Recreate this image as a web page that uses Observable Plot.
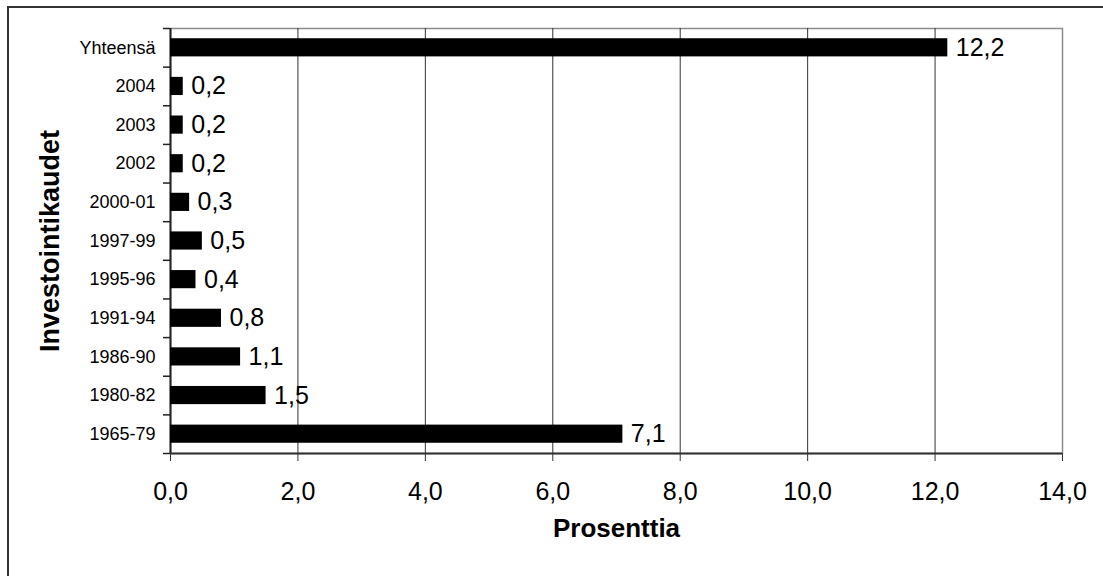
<!DOCTYPE html>
<html>
<head>
<meta charset="utf-8">
<script src="https://cdn.jsdelivr.net/npm/d3@7"></script>
<script src="https://cdn.jsdelivr.net/npm/@observablehq/plot@0.6"></script>
<style>
  html, body { margin: 0; padding: 0; background: #fff; overflow: hidden; }
  #wrap { position: relative; width: 1103px; height: 576px; }
  #border {
    position: absolute; left: 7px; top: 6px; width: 1200px; height: 700px;
    border-top: 2px solid #333; border-left: 2px solid #333; pointer-events: none;
  }
</style>
</head>
<body>
<div id="wrap"><div id="border"></div></div>
<script>
// Investment periods and their share (%)
const periods = ["1965-79", "1980-82", "1986-90", "1991-94", "1995-96", "1997-99", "2000-01", "2002", "2003", "2004", "Yhteensä"];
const shares = [7.1, 1.5, 1.1, 0.8, 0.4, 0.5, 0.3, 0.2, 0.2, 0.2, 12.2];
const xTicks = [0, 2, 4, 6, 8, 10, 12, 14];
const gridTicks = [2, 4, 6, 8, 10, 12];

const rows = periods.map((p, i) => ({period: p, share: shares[i]}));
const order = periods.slice().reverse(); // total on top
const fmt = v => v.toFixed(1).replace(".", ",");

const W = 1103, H = 576;
const mL = 170, mR = 41, mT = 28, mB = 123;
const step = (H - mT - mB) / order.length;
const font = "'Liberation Sans', Arial, Helvetica, sans-serif";

const chart = Plot.plot({
  width: W,
  height: H,
  marginLeft: mL,
  marginRight: mR,
  marginTop: mT,
  marginBottom: mB,
  style: {fontFamily: font, color: "#000", background: "transparent"},
  x: {domain: [0, 14]},
  y: {domain: order, paddingInner: 0.53, paddingOuter: 0.265, round: false},
  marks: [
    Plot.frame({stroke: "#8c8c8c", strokeWidth: 1.5}),
    Plot.ruleX(gridTicks, {stroke: "#333", strokeWidth: 1}),
    // plot axis lines
    Plot.ruleX([0], {stroke: "#222", strokeWidth: 2}),
    Plot.ruleY([order[order.length - 1]], {dy: step / 2, stroke: "#333", strokeWidth: 2}),
    // tick marks on category boundaries
    Plot.axisY(order, {tickSize: 7, tickFormat: () => "", dy: step / 2, stroke: "#222", strokeWidth: 1.5, label: null}),
    Plot.axisY([order[0]], {tickSize: 7, tickFormat: () => "", dy: -step / 2, stroke: "#222", strokeWidth: 1.5, label: null}),
    Plot.barX(rows, {x: "share", y: "period", fill: "#000"}),
    Plot.text(rows, {
      x: "share", y: "period", text: d => fmt(d.share),
      textAnchor: "start", dx: 8, fontSize: 25, fill: "#000"
    }),
    Plot.axisX({
      ticks: xTicks, tickFormat: fmt, tickSize: 8, tickPadding: 21,
      fontSize: 25, label: null, stroke: "#333"
    }),
    Plot.axisY({
      tickSize: 0, tickPadding: 15, fontSize: 18, label: null
    }),
    Plot.text(["Prosenttia"], {
      frameAnchor: "bottom", textAnchor: "middle", dy: 83,
      fontSize: 26, fontWeight: "bold", fill: "#000"
    }),
    Plot.text(["Investointikaudet"], {
      frameAnchor: "left", textAnchor: "middle", rotate: -90, dx: -120,
      fontSize: 27, fontWeight: "bold", fill: "#000"
    })
  ]
});

document.getElementById("wrap").prepend(chart);
</script>
</body>
</html>
